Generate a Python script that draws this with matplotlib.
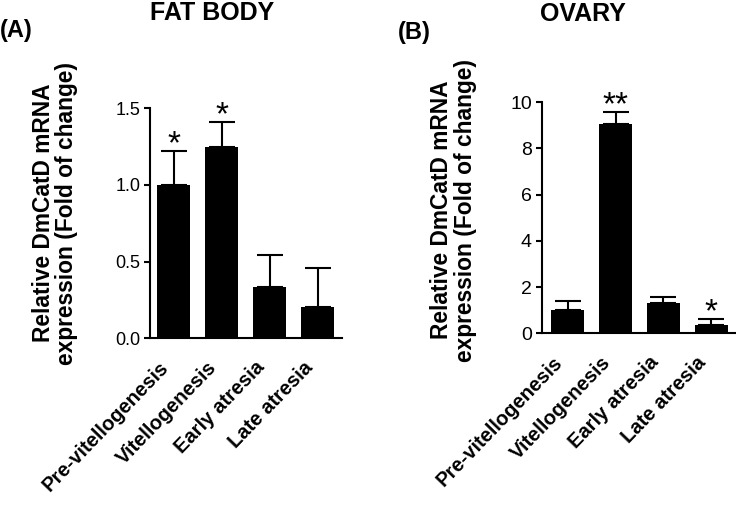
import matplotlib
matplotlib.use("Agg")
import matplotlib.pyplot as plt
import matplotlib.transforms as mtransforms
import numpy as np

plt.rcParams['font.family'] = ['Liberation Sans', 'DejaVu Sans']

categories = ["Pre-vitellogenesis", "Vitellogenesis", "Early atresia", "Late atresia"]

fat_values = [1.00, 1.25, 0.335, 0.205]
fat_errors = [0.22, 0.16, 0.21, 0.255]
fat_stars = ["*", "*", "", ""]
fat_ticks = [0.0, 0.5, 1.0, 1.5]
fat_ticklabels = ["0.0", "0.5", "1.0", "1.5"]

ova_values = [1.03, 9.05, 1.31, 0.36]
ova_errors = [0.38, 0.52, 0.27, 0.25]
ova_stars = ["", "**", "", "*"]
ova_ticks = [0, 2, 4, 6, 8, 10]
ova_ticklabels = ["0", "2", "4", "6", "8", "10"]

fig = plt.figure(figsize=(7.36, 5.14), dpi=100)

axA = fig.add_axes([0.2038, 0.3418, 0.2605, 0.4475])
axB = fig.add_axes([0.7360, 0.3515, 0.2626, 0.4495])

def draw(ax, vals, errs, stars, ticks, ticklabels, ymax, xl, tick_fs):
    x = np.arange(len(categories))
    ax.bar(x, vals, width=0.69, color='black', zorder=2)
    ax.errorbar(x, vals, yerr=[np.zeros(len(errs)), errs], fmt='none',
                ecolor='black', elinewidth=1.5, capsize=9.4, capthick=1.5, zorder=3)
    for xi, v, e, s in zip(x, vals, errs, stars):
        if s:
            ax.annotate(s, (xi, v + e), xytext=(0, 6), textcoords='offset pixels',
                        ha='center', va='center', fontsize=24, fontweight='normal')
    ax.set_ylim(0, ymax)
    ax.set_xlim(*xl)
    ax.set_yticks(ticks)
    ax.set_yticklabels(ticklabels, fontsize=tick_fs)
    ax.set_xticks(x)
    ax.set_xticklabels(categories, rotation=46, ha='right', rotation_mode='anchor',
                       fontsize=14.5, fontweight='bold')
    ax.tick_params(axis='x', length=0, pad=14)
    ax.tick_params(axis='y', length=4, width=1.5, pad=3, direction='out')
    offset = mtransforms.ScaledTranslation(-15/100, 0, fig.dpi_scale_trans)
    for lab in ax.get_xticklabels():
        lab.set_transform(lab.get_transform() + offset)
    for sp in ['top', 'right']:
        ax.spines[sp].set_visible(False)
    for sp in ['left', 'bottom']:
        ax.spines[sp].set_linewidth(1.5)
    ax.patch.set_alpha(0)

draw(axA, fat_values, fat_errors, fat_stars, fat_ticks, fat_ticklabels, 1.5, (-0.5, 3.5), 13)
draw(axB, ova_values, ova_errors, ova_stars, ova_ticks, ova_ticklabels, 10, (-0.55, 3.5), 14)

ylabel = "Relative DmCatD mRNA\nexpression (Fold of change)"
fig.text(55/736, 1 - 213/514, ylabel, rotation=90, ha='center', va='center',
         fontsize=16.4, fontweight='bold', linespacing=1.05)
fig.text(453.5/736, 1 - 210/514, ylabel, rotation=90, ha='center', va='center',
         fontsize=16.4, fontweight='bold', linespacing=1.05)

fig.text(212/736, 1 - 13/514, "FAT BODY", ha='center', va='center', fontsize=18, fontweight='bold')
fig.text(583/736, 1 - 14/514, "OVARY", ha='center', va='center', fontsize=18, fontweight='bold')
fig.text(0/736, 1 - 31/514, "(A)", ha='left', va='center', fontsize=17, fontweight='bold')
fig.text(398/736, 1 - 32/514, "(B)", ha='left', va='center', fontsize=17, fontweight='bold')

fig.savefig("out.png", dpi=100)
